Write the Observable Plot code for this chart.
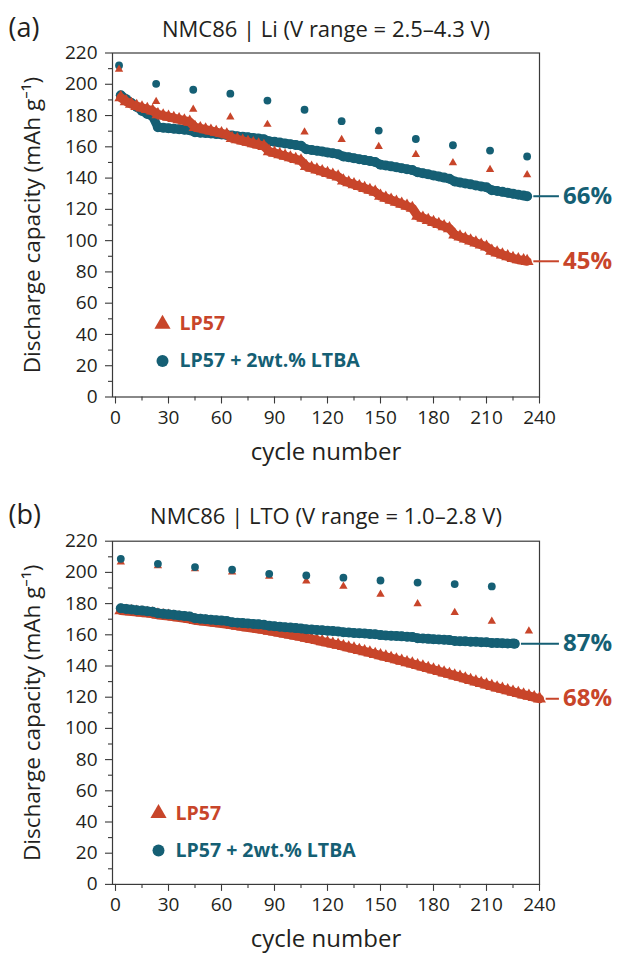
<!DOCTYPE html>
<html>
<head>
<meta charset="utf-8">
<script src="https://cdn.jsdelivr.net/npm/d3@7"></script>
<script src="https://cdn.jsdelivr.net/npm/@observablehq/plot@0.6"></script>
<style>
  body { margin: 0; background: #fff; }
  #chart { width: 617px; }
  #chart svg { display: block; }
</style>
</head>
<body>
<div id="chart"></div>
<script>
// ---------- Tick labels ----------
const yTicks = [0, 20, 40, 60, 80, 100, 120, 140, 160, 180, 200, 220];
const yMinor = [10, 30, 50, 70, 90, 110, 130, 150, 170, 190, 210];
const xTicks = [0, 30, 60, 90, 120, 150, 180, 210, 240];
const xMinor = [15, 45, 75, 105, 135, 165, 195, 225];

const seriesNames = ["LP57", "LP57 + 2wt.% LTBA"];
const panelTags = ["(a)", "(b)"];
const panelTitles = ["NMC86 | Li (V range = 2.5–4.3 V)", "NMC86 | LTO (V range = 1.0–2.8 V)"];
const xLabel = "cycle number";
const yLabel = "Discharge capacity (mAh g⁻¹)";
const pctA = ["45%", "66%"];   // [LP57, LTBA]
const pctB = ["68%", "87%"];

// ---------- Panel (a): NMC86 | Li ----------
const aCheckCycles = [2, 23, 44, 65, 86, 107, 128, 149, 170, 191, 212, 233];
const aCheckLP57   = [209.5, 189, 184, 179, 174.3, 169.4, 164.7, 160.2, 155.1, 149.8, 145.5, 142.1];
const aCheckLTBA   = [212, 200.3, 196.5, 194, 189.6, 183.7, 176.4, 170.4, 165, 161, 157.6, 153.8];

const aCycles = [3, 6, 9, 12, 15, 18, 21, 24, 27, 30, 33, 36, 39, 42, 45, 48, 51, 54, 57, 60, 63,
  66, 69, 72, 75, 78, 81, 84, 87, 90, 93, 96, 99, 102, 105, 108, 111, 114, 117, 120, 123, 126,
  129, 132, 135, 138, 141, 144, 147, 150, 153, 156, 159, 162, 165, 168, 171, 174, 177, 180, 183,
  186, 189, 192, 195, 198, 201, 204, 207, 210, 213, 216, 219, 222, 225, 228, 231, 233];
const aLP57 = [191.5, 189, 187.3, 186, 185, 184, 183, 180.7, 179.9, 179.1, 178.3, 177.5, 176.7, 175.9,
  172.5, 171.8, 171, 170.2, 169.4, 168.6, 167.8, 165.5, 164.7, 163.8, 163, 162.1, 161.3, 160.4,
  157, 156.1, 155.1, 154.1, 153.1, 152.1, 151.1, 147.5, 146.4, 145.3, 144.2, 143.1, 142, 140.9,
  138.3, 137.1, 135.9, 134.7, 133.5, 132.3, 131.1, 128.5, 127.3, 126, 124.7, 123.4, 122.1, 120.8,
  115.8, 114.5, 113.1, 111.8, 110.5, 109.1, 107.8, 103.8, 102.5, 101.2, 99.9, 98.6, 97.3, 96,
  93.4, 92.2, 91, 89.8, 88.7, 87.9, 87.3, 86.8];
const aLTBA = [193, 190.5, 188, 185.5, 183, 181, 179.5, 172.5, 172.2, 171.9, 171.6, 171.2, 170.9, 170.6,
  169.3, 169, 168.8, 168.5, 168.2, 167.9, 167.6, 167.2, 166.8, 166.5, 166.1, 165.7, 165.3, 164.8,
  163.6, 163.2, 162.7, 162.2, 161.7, 161.2, 160.7, 158.5, 158, 157.5, 157, 156.4, 155.9, 155.3,
  153.8, 153.3, 152.7, 152.1, 151.5, 150.9, 150.3, 148.6, 148.1, 147.5, 146.9, 146.3, 145.7, 145.1,
  143.7, 143.1, 142.4, 141.7, 141, 140.3, 139.6, 137.8, 137.2, 136.6, 136, 135.3, 134.7, 134.1,
  132.3, 131.8, 131.2, 130.6, 130, 129.4, 128.8, 128.4];

// ---------- Panel (b): NMC86 | LTO ----------
const bCheckCyclesLP57 = [3, 24, 45, 66, 87, 108, 129, 150, 171, 192, 213, 234];
const bCheckLP57       = [206.6, 204.2, 202.3, 200.2, 197.4, 194.4, 191, 185.9, 179.9, 174.2, 168.6, 162.4];
const bCheckCyclesLTBA = [3, 24, 45, 66, 87, 108, 129, 150, 171, 192, 213];
const bCheckLTBA       = [208.7, 205.5, 203.4, 201.7, 199.1, 198, 196.6, 194.8, 193.5, 192.5, 191];

const bCyclesLP57 = [3, 6, 9, 12, 15, 18, 21, 24, 27, 30, 33, 36, 39, 42, 45, 48, 51, 54, 57, 60, 63,
  66, 69, 72, 75, 78, 81, 84, 87, 90, 93, 96, 99, 102, 105, 108, 111, 114, 117, 120, 123, 126,
  129, 132, 135, 138, 141, 144, 147, 150, 153, 156, 159, 162, 165, 168, 171, 174, 177, 180, 183,
  186, 189, 192, 195, 198, 201, 204, 207, 210, 213, 216, 219, 222, 225, 228, 231, 234, 237, 240];
const bLP57 = [175.5, 175.2, 174.9, 174.6, 174.2, 173.9, 173.5, 172.8, 172.4, 172, 171.5, 171.1, 170.6, 170.1,
  169.3, 168.9, 168.5, 168.1, 167.7, 167.2, 166.8, 166.2, 165.7, 165.2, 164.7, 164.2, 163.7, 163.2,
  162.5, 161.9, 161.3, 160.6, 160, 159.3, 158.7, 157.9, 157.2, 156.5, 155.7, 155, 154.2, 153.5,
  152.6, 151.8, 151, 150.1, 149.3, 148.5, 147.6, 146.7, 145.9, 145, 144.1, 143.2, 142.3, 141.4,
  140.4, 139.5, 138.5, 137.6, 136.6, 135.7, 134.8, 133.8, 132.9, 131.9, 130.9, 129.9, 129, 128,
  127, 126.1, 125.2, 124.3, 123.4, 122.5, 121.6, 120.8, 119.9, 119];
const bCyclesLTBA = [3, 6, 9, 12, 15, 18, 21, 24, 27, 30, 33, 36, 39, 42, 45, 48, 51, 54, 57, 60, 63,
  66, 69, 72, 75, 78, 81, 84, 87, 90, 93, 96, 99, 102, 105, 108, 111, 114, 117, 120, 123, 126,
  129, 132, 135, 138, 141, 144, 147, 150, 153, 156, 159, 162, 165, 168, 171, 174, 177, 180, 183,
  186, 189, 192, 195, 198, 201, 204, 207, 210, 213, 216, 219, 222, 225, 226];
const bLTBA = [177, 176.6, 176.2, 175.8, 175.5, 175.1, 174.8, 173.8, 173.5, 173.1, 172.8, 172.4, 172.1, 171.7,
  170.6, 170.3, 170, 169.7, 169.4, 169.1, 168.8, 168, 167.8, 167.5, 167.3, 167, 166.7, 166.4,
  165.8, 165.5, 165.2, 164.9, 164.6, 164.3, 164, 163.6, 163.4, 163.1, 162.9, 162.6, 162.4, 162.1,
  161.7, 161.5, 161.2, 161, 160.8, 160.5, 160.3, 159.8, 159.6, 159.4, 159.2, 159, 158.8, 158.6,
  157.8, 157.6, 157.4, 157.2, 157, 156.8, 156.6, 156.1, 155.9, 155.8, 155.6, 155.5, 155.3, 155.2,
  154.8, 154.7, 154.6, 154.5, 154.4, 154.3];

// ---------- Styling ----------
const ORANGE = "#c8452a";
const TEAL = "#155f74";
const INK = "#231f20";
const AXIS = "#3a3a3a";
const FONT = "'Open Sans', 'Noto Sans', sans-serif";

const zip = (cs, vs) => cs.map((c, i) => ({c, v: vs[i]}));
const last = (cs, vs, label) => ({c: cs[cs.length - 1], v: vs[vs.length - 1], label});

function panel(cfg) {
  const lp = zip(cfg.cyclesLP, cfg.lp);
  const lt = zip(cfg.cyclesLT, cfg.lt);
  const clp = zip(cfg.checkCyclesLP, cfg.checkLP);
  const clt = zip(cfg.checkCyclesLT, cfg.checkLT);
  const ends = [
    {...last(cfg.cyclesLP, cfg.lp, cfg.pct[0]), color: ORANGE},
    {...last(cfg.cyclesLT, cfg.lt, cfg.pct[1]), color: TEAL}
  ];
  const lpMarks = [
    Plot.line(lp, {x: "c", y: "v", stroke: ORANGE, strokeWidth: 9, strokeLinejoin: "round"}),
    Plot.dot(lp, {x: "c", y: "v", symbol: "triangle", r: 4.8, fill: ORANGE, stroke: "none"}),
    Plot.dot(clp, {x: "c", y: "v", symbol: "triangle", r: 3.1, fill: ORANGE, stroke: "none"})
  ];
  const ltMarks = [
    Plot.line(lt, {x: "c", y: "v", stroke: TEAL, strokeWidth: 9, strokeLinejoin: "round", strokeLinecap: "round"}),
    Plot.dot(lt, {x: "c", y: "v", r: 5, fill: TEAL, stroke: "none"}),
    Plot.dot(clt, {x: "c", y: "v", r: 3.9, fill: TEAL, stroke: "none"})
  ];
  const dataMarks = cfg.orangeOnTop ? [...ltMarks, ...lpMarks] : [...lpMarks, ...ltMarks];

  return Plot.plot({
    width: 617,
    height: cfg.height,
    marginTop: cfg.marginTop,
    marginBottom: cfg.marginBottom,
    marginLeft: 112,
    marginRight: 78,
    style: {fontFamily: FONT, fontSize: "19px", color: INK, background: "white", overflow: "visible"},
    x: {domain: [-1.7, 240], label: null},
    y: {domain: [0, 220], label: null},
    marks: [
      Plot.axisY(yTicks, {tickSize: 7, tickPadding: 8, stroke: AXIS, strokeWidth: 1.1, fill: INK, fontSize: 19, label: null}),
      Plot.axisY(yMinor, {tickSize: 4, stroke: AXIS, strokeWidth: 1.1, tickFormat: () => "", label: null}),
      Plot.axisX(xTicks, {tickSize: 7, tickPadding: 6, stroke: AXIS, strokeWidth: 1.1, fill: INK, fontSize: 19, label: null}),
      Plot.axisX(xMinor, {tickSize: 4, stroke: AXIS, strokeWidth: 1.1, tickFormat: () => "", label: null}),
      Plot.frame({stroke: AXIS, strokeWidth: 1.2}),
      ...dataMarks,
      // end-of-series retention labels
      Plot.link(ends, {x1: d => d.c + 3.5, x2: 251, y1: "v", y2: "v", stroke: d => d.color, strokeWidth: 2}),
      Plot.text(ends, {x: 251, y: "v", text: "label", dx: 4, textAnchor: "start", lineAnchor: "middle",
        fill: d => d.color, fontWeight: "bold", fontSize: 24}),
      // legend
      Plot.dot([seriesNames[0]], {frameAnchor: "bottom-left", dx: cfg.legDx, dy: cfg.legDy1, symbol: "triangle", r: 6, fill: ORANGE}),
      Plot.text([seriesNames[0]], {frameAnchor: "bottom-left", dx: cfg.legDx + 17, dy: cfg.legDy1, textAnchor: "start",
        lineAnchor: "middle", fill: ORANGE, fontWeight: "bold", fontSize: 19.5}),
      Plot.dot([seriesNames[1]], {frameAnchor: "bottom-left", dx: cfg.legDx, dy: cfg.legDy2, r: 6, fill: TEAL}),
      Plot.text([seriesNames[1]], {frameAnchor: "bottom-left", dx: cfg.legDx + 17, dy: cfg.legDy2, textAnchor: "start",
        lineAnchor: "middle", fill: TEAL, fontWeight: "bold", fontSize: 19.5}),
      // titles and axis labels
      Plot.text([cfg.title], {frameAnchor: "top", dy: cfg.titleDy, lineAnchor: "middle", textAnchor: "middle", fontSize: 22, fill: INK}),
      Plot.text([cfg.tag], {frameAnchor: "top-left", dx: -104, dy: cfg.tagDy, textAnchor: "start", lineAnchor: "middle", fontSize: 27, fill: INK}),
      Plot.text([xLabel], {frameAnchor: "bottom", dy: 55, lineAnchor: "middle", textAnchor: "middle", fontSize: 24, fill: INK}),
      Plot.text([yLabel], {frameAnchor: "left", dx: -80, rotate: -90, textAnchor: "middle", lineAnchor: "middle", fontSize: 22.5, fill: INK})
    ]
  });
}

const chart = document.getElementById("chart");
chart.append(panel({
  height: 478, marginTop: 52.5, marginBottom: 81.5,
  tag: panelTags[0], title: panelTitles[0], pct: pctA, titleDy: -23, tagDy: -25,
  cyclesLP: aCycles, lp: aLP57, cyclesLT: aCycles, lt: aLTBA,
  checkCyclesLP: aCheckCycles, checkLP: aCheckLP57, checkCyclesLT: aCheckCycles, checkLT: aCheckLTBA,
  orangeOnTop: true, legDx: 50, legDy1: -73, legDy2: -36
}));
chart.append(panel({
  height: 477, marginTop: 62.7, marginBottom: 71.1,
  tag: panelTags[1], title: panelTitles[1], pct: pctB, titleDy: -24, tagDy: -26,
  cyclesLP: bCyclesLP57, lp: bLP57, cyclesLT: bCyclesLTBA, lt: bLTBA,
  checkCyclesLP: bCheckCyclesLP57, checkLP: bCheckLP57, checkCyclesLT: bCheckCyclesLTBA, checkLT: bCheckLTBA,
  orangeOnTop: false, legDx: 46, legDy1: -71, legDy2: -34
}));
</script>
</body>
</html>
